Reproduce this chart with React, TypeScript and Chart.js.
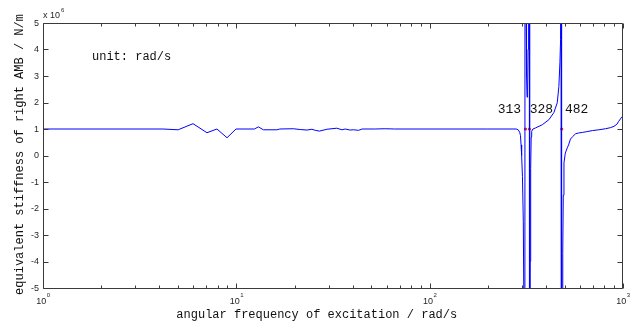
import React, { useEffect, useRef } from "react";
import { Chart, registerables } from "chart.js";

Chart.register(...registerables);

// ---- data (stiffness in units of 1e6 N/m) ----
const frequency = [
  1, 4.17, 5.0, 5.97, 7.05, 7.94, 8.95, 9.96, 12.4, 13.0, 13.8, 16.2, 16.8, 19.7, 21.4, 23.2,
  24.6, 25.6, 26.9, 29.4, 33.1, 35.2, 36.6, 38.8, 40.4, 42.9, 44.7, 52, 58.9, 66, 120, 200, 280,
  287, 292, 295, 297, 299, 302, 305, 308, 310, 312, 315, 317, 319, 321, 323, 325, 327, 329, 331,
  333, 335, 337, 342, 352.7, 382.3, 413.6, 439.1, 457, 466, 471.7, 475.5, 478, 480, 482.5, 486,
  488, 491, 495, 503, 515, 523, 535, 550, 568.5, 590, 616, 650, 694, 750, 812, 860, 898, 930,
  950, 970, 984, 1000,
];
const stiffness = [
  1.0, 1.0, 0.97, 1.2, 0.86, 1.0, 0.67, 1.0, 1.0, 1.08, 0.97, 0.97, 1.0, 1.01, 0.98, 0.96,
  0.99, 0.95, 0.92, 0.99, 1.03, 0.97, 1.0, 0.96, 0.97, 0.95, 1.0, 1.0, 1.01, 1.0, 1.0, 1.0, 1.0,
  0.97, 0.88, 0.75, 0.4, 0.0, -0.8, -2.5, -7, -40, 40, 6, 3, 2.2, 2.4, 4, 8, 40, -40, -4,
  -0.5, 0.7, 0.91, 1.0, 1.04, 1.16, 1.35, 1.62, 1.99, 2.61, 3.5, 4.37, 8, 40, -40, -8,
  -3.7, -1.5, -0.28, 0.09, 0.29, 0.4, 0.62, 0.72, 0.82, 0.85, 0.87, 0.9, 0.94, 0.97, 1.01, 1.05, 1.1, 1.18,
  1.29, 1.38, 1.45, 1.47,
];
const resonanceFreqs = [313, 328, 482];
const resonanceStiffness = [1, 1, 1];
const resonanceLabels = ["313", "328", "482"];
const yTickValues = [-5, -4, -3, -2, -1, 0, 1, 2, 3, 4, 5];
const xDecades = [0, 1, 2, 3];
const xMinorMultipliers = [2, 3, 4, 5, 6, 7, 8, 9];
const yExponent = "6";
const xTitle = "angular frequency of excitation / rad/s";
const yTitle = "equivalent stiffness of right AMB / N/m";
const unitNote = "unit: rad/s";

// ---- styles ----
const AXIS_COLOR = "#3a3a3a";
const TEXT_COLOR = "#262626";
const TICK_FONT_FAMILY = "'Liberation Sans', Arial, sans-serif";
const LABEL_FONT_FAMILY = "'Liberation Mono', 'DejaVu Sans Mono', monospace";

const matlabAxes = {
  id: "matlabAxes",
  afterDraw(chart: any) {
    const ctx: CanvasRenderingContext2D = chart.ctx;
    const a = chart.chartArea;
    const xs = chart.scales.x;
    const ys = chart.scales.y;
    ctx.save();
    ctx.strokeStyle = AXIS_COLOR;
    ctx.lineWidth = 1;
    const L = Math.round(a.left) + 0.5;
    const R = Math.round(a.right) - 0.5;
    const T = Math.round(a.top) + 0.5;
    const B = Math.round(a.bottom) + 0.5;
    ctx.beginPath();
    ctx.rect(L, T, R - L, B - T);
    ctx.stroke();

    // y ticks
    ctx.beginPath();
    for (const v of yTickValues) {
      const py = Math.round(ys.getPixelForValue(v)) + 0.5;
      ctx.moveTo(L, py);
      ctx.lineTo(L + 5, py);
      ctx.moveTo(R, py);
      ctx.lineTo(R - 5, py);
    }
    // x ticks
    for (const d of xDecades) {
      const mults = d === xDecades[xDecades.length - 1] ? [1] : [1, ...xMinorMultipliers];
      for (const m of mults) {
        const f = m * Math.pow(10, d);
        const px = Math.round(xs.getPixelForValue(f)) + 0.5;
        const len = m === 1 ? 5 : 3;
        ctx.moveTo(px, B);
        ctx.lineTo(px, B - len);
        ctx.moveTo(px, T);
        ctx.lineTo(px, T + len);
      }
    }
    ctx.stroke();

    ctx.fillStyle = TEXT_COLOR;
    // y tick labels
    ctx.font = `9px ${TICK_FONT_FAMILY}`;
    ctx.textAlign = "right";
    ctx.textBaseline = "middle";
    for (const v of yTickValues) {
      const py = ys.getPixelForValue(v);
      ctx.fillText(String(v), a.left - 4, py + 0.5);
    }
    // x tick labels 10^d
    for (const d of xDecades) {
      const px = xs.getPixelForValue(Math.pow(10, d));
      ctx.font = `9px ${TICK_FONT_FAMILY}`;
      const wb = ctx.measureText("10").width;
      ctx.font = `6px ${TICK_FONT_FAMILY}`;
      const we = ctx.measureText(String(d)).width;
      const x0 = px - (wb + we) / 2;
      ctx.textAlign = "left";
      ctx.textBaseline = "alphabetic";
      ctx.font = `9px ${TICK_FONT_FAMILY}`;
      ctx.fillText("10", x0, a.bottom + 16);
      ctx.font = `6px ${TICK_FONT_FAMILY}`;
      ctx.fillText(String(d), x0 + wb + 0.5, a.bottom + 9);
    }
    // exponent marker
    ctx.textAlign = "left";
    ctx.textBaseline = "alphabetic";
    ctx.font = `9px ${TICK_FONT_FAMILY}`;
    ctx.fillText("x 10", a.left, a.top - 5);
    const wx = ctx.measureText("x 10").width;
    ctx.font = `6px ${TICK_FONT_FAMILY}`;
    ctx.fillText(yExponent, a.left + wx + 1, a.top - 11);

    // titles
    ctx.font = `12px ${LABEL_FONT_FAMILY}`;
    ctx.textAlign = "center";
    ctx.textBaseline = "middle";
    ctx.fillStyle = "#111";
    ctx.fillText(xTitle, a.left + (a.right - a.left) * 0.472, a.bottom + 27);
    ctx.save();
    ctx.translate(20, (a.top + a.bottom) / 2 - 1);
    ctx.rotate(-Math.PI / 2);
    ctx.fillText(yTitle, 0, 0);
    ctx.restore();

    // annotations
    ctx.font = `12px ${LABEL_FONT_FAMILY}`;
    ctx.textAlign = "left";
    ctx.fillText(unitNote, a.left + 49, ys.getPixelForValue(3.73));
    ctx.font = `13px ${LABEL_FONT_FAMILY}`;
    ctx.textAlign = "center";
    const labelOffsets = [-16, 12, 15];
    resonanceFreqs.forEach((f, i) => {
      ctx.fillText(
        resonanceLabels[i],
        xs.getPixelForValue(f) + labelOffsets[i],
        ys.getPixelForValue(1.73)
      );
    });
    ctx.restore();
  },
};

export default function App() {
  const canvasRef = useRef<HTMLCanvasElement | null>(null);

  useEffect(() => {
    document.body.style.margin = "0";
    const canvas = canvasRef.current;
    if (!canvas) return;
    const chart = new Chart(canvas, {
      type: "line",
      data: {
        datasets: [
          {
            label: "stiffness",
            data: frequency.map((f, i) => ({ x: f, y: stiffness[i] })),
            borderColor: "#0000ff",
            borderWidth: 1,
            pointRadius: 0,
            tension: 0,
            fill: false,
          },
          {
            label: "resonance",
            data: resonanceFreqs.map((f, i) => ({ x: f, y: resonanceStiffness[i] })),
            showLine: false,
            pointRadius: 1.6,
            pointBackgroundColor: "#ff2020",
            pointBorderColor: "#ff2020",
            borderWidth: 0,
          },
        ],
      },
      options: {
        animation: false,
        responsive: false,
        layout: { padding: { left: 43, right: 10, top: 23, bottom: 39 } },
        plugins: { legend: { display: false }, tooltip: { enabled: false } },
        scales: {
          x: { type: "logarithmic", min: 1, max: 1000, display: false },
          y: { type: "linear", min: -5, max: 5, display: false },
        },
      },
      plugins: [matlabAxes],
    });
    return () => chart.destroy();
  }, []);

  return (
    <div style={{ position: "fixed", left: 0, top: 0, width: 633, height: 327, background: "#fff" }}>
      <canvas ref={canvasRef} width={633} height={327} />
    </div>
  );
}
